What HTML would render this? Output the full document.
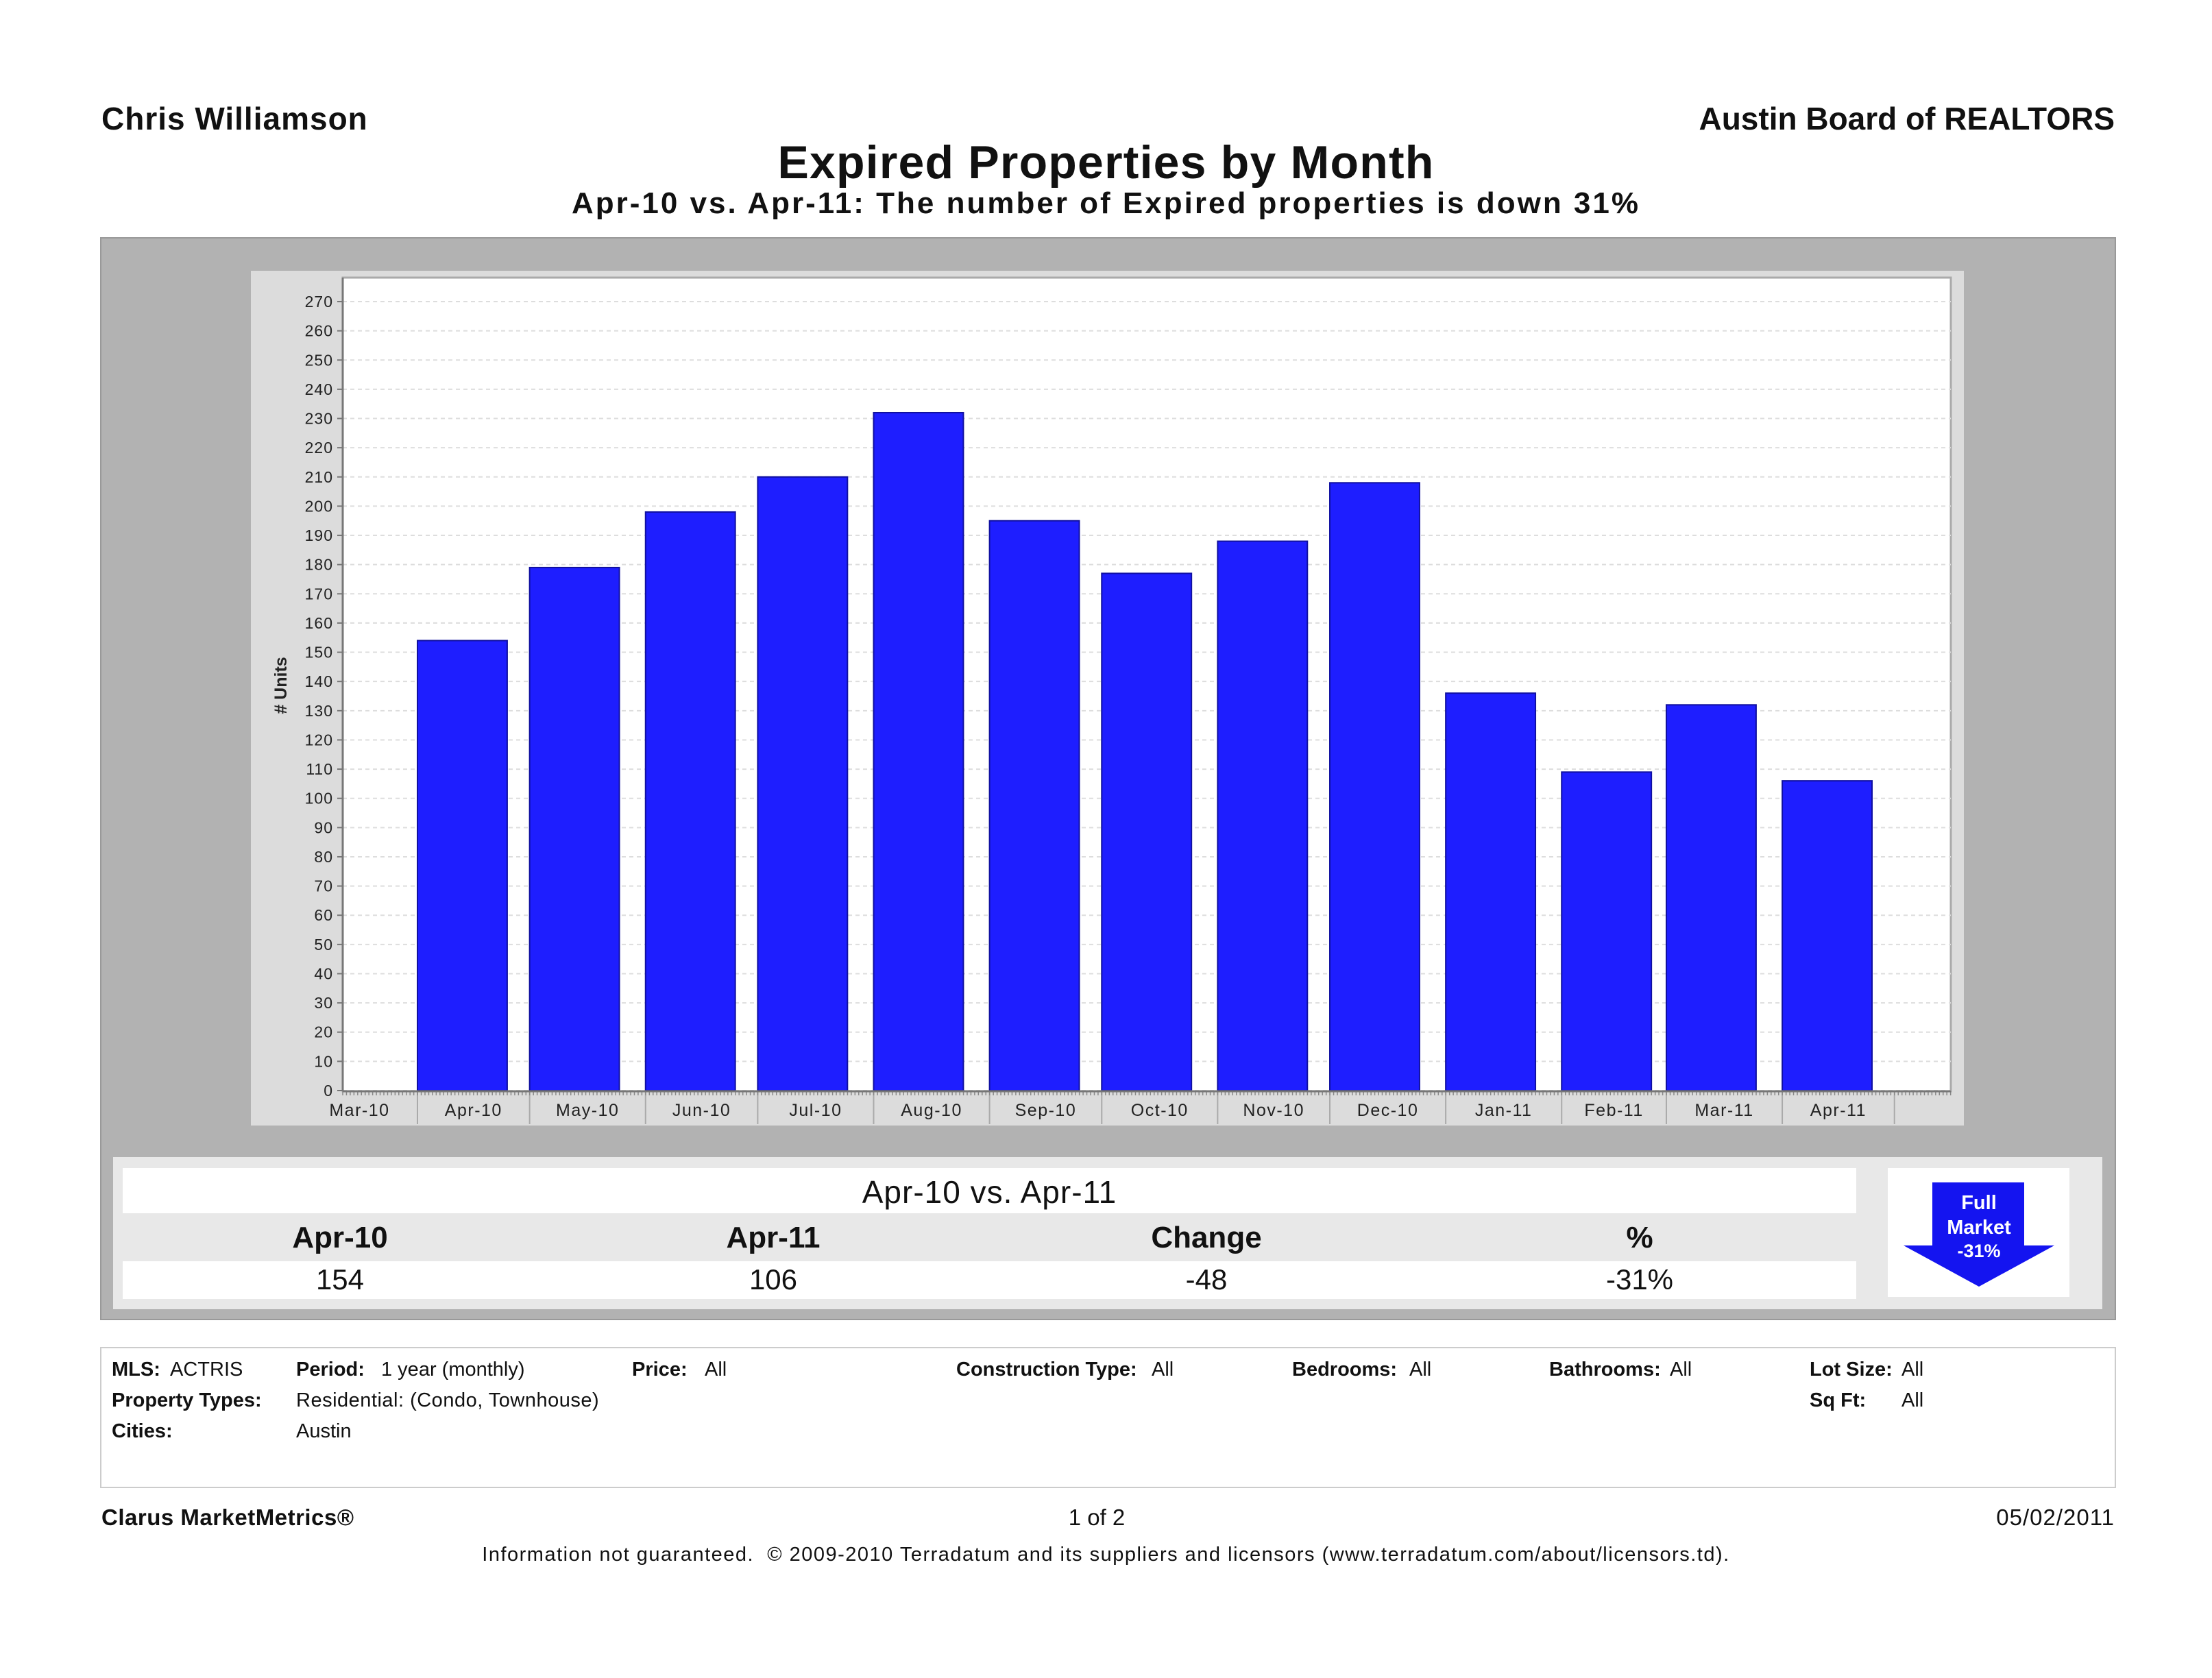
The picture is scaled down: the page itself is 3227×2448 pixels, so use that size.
<!DOCTYPE html>
<html><head><meta charset="utf-8">
<style>
body{margin:0;width:3227px;height:2448px;background:#fff;position:relative;overflow:hidden;font-family:"Liberation Sans","DejaVu Sans",sans-serif;color:#111}
.a{position:absolute;white-space:nowrap}
.b{font-weight:bold}
</style></head><body>
<div class="a b" style="left:148px;top:146px;font-size:46px;letter-spacing:1px">Chris Williamson</div>
<div class="a b" style="right:142px;top:146px;font-size:46px">Austin Board of REALTORS</div>
<div class="a b" style="left:0;width:3227px;text-align:center;top:198px;font-size:68px;letter-spacing:1.2px">Expired Properties by Month</div>
<div class="a b" style="left:0;width:3227px;text-align:center;top:272px;font-size:44px;letter-spacing:3px">Apr-10 vs. Apr-11: The number of Expired properties is down 31%</div>

<div class="a" style="left:146px;top:346px;width:2937px;height:1576px;background:#b2b2b2;border:2px solid #999"></div>
<svg class="a" style="left:0;top:0" width="3227" height="1700" id="chart"></svg>

<div class="a" style="left:165px;top:1688px;width:2902px;height:222px;background:#e8e8e8"></div>
<div class="a" style="left:179px;top:1704px;width:2529px;height:66px;background:#fff"></div>
<div class="a" style="left:179px;top:1840px;width:2529px;height:55px;background:#fff"></div>
<div class="a" style="left:179px;width:2529px;text-align:center;top:1712px;font-size:46px;letter-spacing:1px">Apr-10 vs. Apr-11</div>
<div class="a b" style="left:296px;width:400px;text-align:center;top:1781px;font-size:44px">Apr-10</div>
<div class="a b" style="left:928px;width:400px;text-align:center;top:1781px;font-size:44px">Apr-11</div>
<div class="a b" style="left:1560px;width:400px;text-align:center;top:1781px;font-size:44px">Change</div>
<div class="a b" style="left:2192px;width:400px;text-align:center;top:1781px;font-size:44px">%</div>
<div class="a" style="left:296px;width:400px;text-align:center;top:1843px;font-size:42px">154</div>
<div class="a" style="left:928px;width:400px;text-align:center;top:1843px;font-size:42px">106</div>
<div class="a" style="left:1560px;width:400px;text-align:center;top:1843px;font-size:42px">-48</div>
<div class="a" style="left:2192px;width:400px;text-align:center;top:1843px;font-size:42px">-31%</div>
<div class="a" style="left:2754px;top:1704px;width:265px;height:188px;background:#fff"></div>
<svg class="a" style="left:2754px;top:1704px" width="265" height="188">
<polygon points="65,21 199,21 199,113 243,113 133,173 23,113 65,113" fill="#1414f0"/>
<text x="133" y="60" text-anchor="middle" font-size="29" font-weight="bold" fill="#fff" font-family="Liberation Sans">Full</text>
<text x="133" y="96" text-anchor="middle" font-size="29" font-weight="bold" fill="#fff" font-family="Liberation Sans">Market</text>
<text x="133" y="130" text-anchor="middle" font-size="27" font-weight="bold" fill="#fff" font-family="Liberation Sans">-31%</text>
</svg>

<div class="a" style="left:146px;top:1965px;width:2937px;height:202px;border:2px solid #ccc"></div>
<div style="font-size:29px">
<div class="a b" style="left:163px;top:1982px">MLS:</div><div class="a" style="left:248px;top:1982px">ACTRIS</div>
<div class="a b" style="left:432px;top:1982px">Period:</div><div class="a" style="left:556px;top:1982px">1 year (monthly)</div>
<div class="a b" style="left:922px;top:1982px">Price:</div><div class="a" style="left:1028px;top:1982px">All</div>
<div class="a b" style="left:1395px;top:1982px">Construction Type:</div><div class="a" style="left:1680px;top:1982px">All</div>
<div class="a b" style="left:1885px;top:1982px">Bedrooms:</div><div class="a" style="left:2056px;top:1982px">All</div>
<div class="a b" style="left:2260px;top:1982px">Bathrooms:</div><div class="a" style="left:2436px;top:1982px">All</div>
<div class="a b" style="left:2640px;top:1982px">Lot Size:</div><div class="a" style="left:2774px;top:1982px">All</div>
<div class="a b" style="left:163px;top:2027px">Property Types:</div><div class="a" style="left:432px;top:2027px;letter-spacing:0.5px">Residential: (Condo, Townhouse)</div>
<div class="a b" style="left:2640px;top:2027px">Sq Ft:</div><div class="a" style="left:2774px;top:2027px">All</div>
<div class="a b" style="left:163px;top:2072px">Cities:</div><div class="a" style="left:432px;top:2072px">Austin</div>
</div>
<div class="a b" style="left:148px;top:2195px;font-size:33px;letter-spacing:0.5px">Clarus MarketMetrics®</div>
<div class="a" style="left:1400px;width:400px;text-align:center;top:2195px;font-size:33px">1 of 2</div>
<div class="a" style="right:142px;top:2195px;font-size:33px;letter-spacing:1px">05/02/2011</div>
<div class="a" style="left:0;width:3227px;text-align:center;top:2252px;font-size:29px;letter-spacing:1.5px">Information not guaranteed.&nbsp; © 2009-2010 Terradatum and its suppliers and licensors (www.terradatum.com/about/licensors.td).</div>

<script>
const categories=["Apr-10","May-10","Jun-10","Jul-10","Aug-10","Sep-10","Oct-10","Nov-10","Dec-10","Jan-11","Feb-11","Mar-11","Apr-11"];
const monthDays=[30,31,30,31,31,30,31,30,31,31,28,31,30];
const values=[154,179,198,210,232,195,177,188,208,136,109,132,106];
const yTicks=[0,10,20,30,40,50,60,70,80,90,100,110,120,130,140,150,160,170,180,190,200,210,220,230,240,250,260,270];
const NS="http://www.w3.org/2000/svg";
const svg=document.getElementById('chart');
function mk(t,a,p){const e=document.createElementNS(NS,t);for(const k in a)e.setAttribute(k,a[k]);(p||svg).appendChild(e);return e;}
const L=500,R=2846,T=405,B=1592;
const y0=1591,perUnit=(1591-440)/270;
function y(v){return y0-v*perUnit;}
const pxDay=5.455,aprStart=609;
function xDay(d){return aprStart+d*pxDay;}
const bg=mk('rect',{x:366,y:395,width:2499,height:1247,fill:'#dcdcdc'});


const plot=mk('rect',{x:L,y:T,width:R-L,height:B-T,fill:'#fff',stroke:'#aaa','stroke-width':3});


yTicks.forEach(v=>{
  const g=mk('line',{x1:L,x2:R,y1:y(v),y2:y(v),stroke:'#ddd','stroke-width':2,'stroke-dasharray':'6 5'});
  
  
  mk('line',{x1:L-8,x2:L,y1:y(v),y2:y(v),stroke:'#777','stroke-width':2});
  const t=mk('text',{x:L-14,y:y(v)+8,'text-anchor':'end','font-size':23,fill:'#222','font-family':'Liberation Sans','letter-spacing':1});
  t.textContent=v;
  
  
});
const yt=mk('text',{x:0,y:0,'font-size':25,'font-weight':'bold',fill:'#222','font-family':'Liberation Sans','text-anchor':'middle',transform:'translate(418,1000) rotate(-90)'});
yt.textContent='# Units';


let d=0;
const bounds=[];
categories.forEach((c,i)=>{
  bounds.push(d);
  const x=xDay(d);
  const r=mk('rect',{x:x,y:y(values[i]),width:24*pxDay,height:y0-y(values[i]),fill:'#1e1eff',stroke:'#1010a0','stroke-width':2});
  
  
  const t=mk('text',{x:x+monthDays[i]*pxDay/2,y:1628,'text-anchor':'middle','font-size':25,fill:'#222','font-family':'Liberation Sans','letter-spacing':1.5});
  t.textContent=c;
  
  
  d+=monthDays[i];
});
bounds.push(d);
bounds.forEach(b=>mk('line',{x1:xDay(b),x2:xDay(b),y1:B,y2:1640,stroke:'#aaa','stroke-width':2}));
const mt=mk('text',{x:xDay(-15.5),y:1628,'text-anchor':'middle','font-size':25,fill:'#222','font-family':'Liberation Sans','letter-spacing':1.5});
mt.textContent='Mar-10';


for(let x=L;x<R;x+=pxDay)mk('line',{x1:x,x2:x,y1:B,y2:B+6,stroke:'#888','stroke-width':1.5});
mk('line',{x1:L,x2:R,y1:B,y2:B,stroke:'#777','stroke-width':3});
mk('line',{x1:L,x2:L,y1:T,y2:B,stroke:'#777','stroke-width':3});
</script>
</body></html>
